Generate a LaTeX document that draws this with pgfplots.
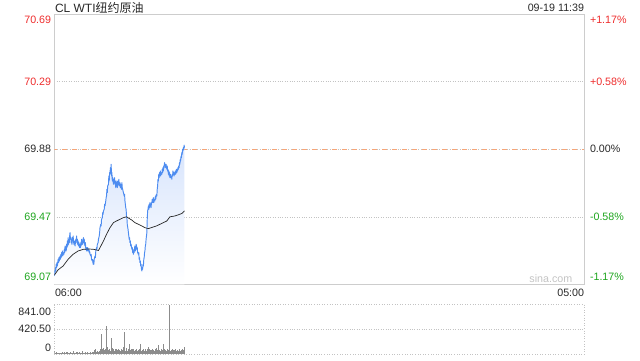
\documentclass[border=0pt]{standalone}
\usepackage{fontspec}
\setmainfont{Liberation Sans}
\newfontfamily\cjk{Noto Sans CJK SC}
\usepackage{pgfplots}
\usepackage{pgfplotstable}
\pgfplotsset{compat=1.18}
\definecolor{pricel}{RGB}{77,140,240}
\definecolor{fillc}{RGB}{215,228,252}
\definecolor{upred}{RGB}{238,45,45}
\definecolor{dngreen}{RGB}{30,165,30}
\definecolor{txt}{RGB}{40,40,40}
\definecolor{boxc}{RGB}{205,205,205}
\definecolor{gridc}{RGB}{195,195,195}
\definecolor{basec}{RGB}{245,165,120}
\definecolor{volc}{RGB}{140,140,140}
\pgfplotstableread{
m p
0 69.12
1 69.15
2 69.14
3 69.17
4 69.15
5 69.19
6 69.17
7 69.20
8 69.18
10 69.22
11 69.20
12 69.23
13 69.21
15 69.24
16 69.22
17 69.25
18 69.23
19 69.26
20 69.24
21 69.27
22 69.24
23 69.26
25 69.25
26 69.28
27 69.26
28 69.30
29 69.27
30 69.29
31 69.27
32 69.31
33 69.29
34 69.33
35 69.30
36 69.35
37 69.31
38 69.33
39 69.32
40 69.36
41 69.38
42 69.34
43 69.35
44 69.32
45 69.34
46 69.31
47 69.35
48 69.33
49 69.36
50 69.33
51 69.31
52 69.33
54 69.30
55 69.32
56 69.34
57 69.32
58 69.36
59 69.33
60 69.34
61 69.31
62 69.33
63 69.30
64 69.32
66 69.29
67 69.31
68 69.29
69 69.32
70 69.30
71 69.34
72 69.31
73 69.33
74 69.31
75 69.34
76 69.35
77 69.32
78 69.34
79 69.31
80 69.30
81 69.32
82 69.28
83 69.29
84 69.27
85 69.29
86 69.27
87 69.29
89 69.27
90 69.28
91 69.26
92 69.27
93 69.25
95 69.24
96 69.25
97 69.22
99 69.21
100 69.22
101 69.19
102 69.20
103 69.19
104 69.22
106 69.24
107 69.23
108 69.27
110 69.29
111 69.28
112 69.31
114 69.32
115 69.34
117 69.36
118 69.38
119 69.41
121 69.43
122 69.42
123 69.46
125 69.47
126 69.50
127 69.49
128 69.51
130 69.52
131 69.55
132 69.54
134 69.57
135 69.59
136 69.60
137 69.64
138 69.62
139 69.66
141 69.67
142 69.72
143 69.69
144 69.74
145 69.73
146 69.77
147 69.75
148 69.79
149 69.72
150 69.74
151 69.69
152 69.71
154 69.67
155 69.70
156 69.68
157 69.71
158 69.67
159 69.69
160 69.65
161 69.68
162 69.66
163 69.69
164 69.65
166 69.69
167 69.67
168 69.70
169 69.66
171 69.68
172 69.65
173 69.67
175 69.64
176 69.68
177 69.65
178 69.64
180 69.62
182 69.60
183 69.61
184 69.57
186 69.53
187 69.52
188 69.48
189 69.47
190 69.43
192 69.40
193 69.38
194 69.36
195 69.34
196 69.35
197 69.32
198 69.33
199 69.30
200 69.31
202 69.28
203 69.29
204 69.26
205 69.27
206 69.25
207 69.28
208 69.26
209 69.29
210 69.30
211 69.27
212 69.28
213 69.31
214 69.30
215 69.28
216 69.29
217 69.26
219 69.25
220 69.26
221 69.22
222 69.23
223 69.20
224 69.21
225 69.18
226 69.19
227 69.16
228 69.15
229 69.17
230 69.16
231 69.19
232 69.18
233 69.22
234 69.23
235 69.26
236 69.27
237 69.30
238 69.31
239 69.34
240 69.36
241 69.38
242 69.46
243 69.51
244 69.52
245 69.54
246 69.52
247 69.55
248 69.53
249 69.56
250 69.54
251 69.55
252 69.53
253 69.56
254 69.56
255 69.58
256 69.56
258 69.59
259 69.56
260 69.58
262 69.57
263 69.60
264 69.58
266 69.61
267 69.60
268 69.64
269 69.66
270 69.70
271 69.69
272 69.73
273 69.71
274 69.74
275 69.72
276 69.75
277 69.72
278 69.74
280 69.73
281 69.76
282 69.74
283 69.77
284 69.75
285 69.78
286 69.77
287 69.80
288 69.78
289 69.79
290 69.77
291 69.79
293 69.76
294 69.78
295 69.75
296 69.76
297 69.73
298 69.75
299 69.72
300 69.74
301 69.71
302 69.73
303 69.71
305 69.72
306 69.70
307 69.73
308 69.72
309 69.75
310 69.73
311 69.74
312 69.72
313 69.74
314 69.73
315 69.75
316 69.73
318 69.76
319 69.74
320 69.76
321 69.75
322 69.77
323 69.76
324 69.78
325 69.77
326 69.80
327 69.79
328 69.82
329 69.81
330 69.84
331 69.83
332 69.86
333 69.85
334 69.88
335 69.87
336 69.89
337 69.88
338 69.905
339 69.89
}\price
\begin{document}
\begin{tikzpicture}[every node/.style={font=\fontsize{10.7}{12}\selectfont,inner sep=0pt}]
\useasboundingbox (0pt,0pt) rectangle (640pt,360pt);
\begin{axis}[at={(54.3pt,75.7pt)}, anchor=south west, width=530pt, height=270pt, scale only axis,
  xmin=0, xmax=1380, ymin=69.07, ymax=70.69,
  axis line style={draw=boxc, line width=0.8pt},
  xtick=\empty, ytick={69.47,70.29}, yticklabels={}, major tick length=0pt,
  ymajorgrids, grid style={draw=gridc, dotted, line width=0.6pt},
  clip=true]
\addplot[draw=gridc, dotted, line width=0.6pt] coordinates {(0,69.88) (1380,69.88)};
\addplot[draw=basec, dash pattern=on 5pt off 5pt, dash phase=2pt, line width=0.9pt] coordinates {(0,69.88) (1380,69.88)};
\addplot[draw=none, top color=fillc, bottom color=white] table[x=m,y=p] {\price} \closedcycle;
\addplot[draw=pricel, line width=0.95pt, line join=round] table[x=m,y=p] {\price};
\addplot[draw=black!85, line width=0.7pt] coordinates {
(0,69.125) (10,69.157) (23,69.18) (36,69.22) (49,69.25) (62,69.27) (76,69.28) (89,69.282) (102,69.28) (115,69.273) (119,69.29) (128,69.33) (136,69.37) (145,69.41) (154,69.44) (162,69.45) (171,69.46) (180,69.47) (188,69.475) (195,69.465) (202,69.455) (210,69.44) (219,69.43) (228,69.42) (236,69.41) (245,69.404) (258,69.414) (266,69.42) (275,69.43) (284,69.44) (293,69.45) (301,69.475) (314,69.48) (323,69.487) (332,69.495) (339,69.51)
};
\end{axis}
\begin{axis}[at={(54.3pt,5.8pt)}, anchor=south west, width=530pt, height=49.7pt, scale only axis,
  xmin=0, xmax=1380, ymin=0, ymax=841,
  axis line style={draw=gridc, dotted, line width=0.6pt},
  xtick=\empty, ytick={420.5}, yticklabels={}, major tick length=0pt,
  ymajorgrids, grid style={draw=gridc, dotted, line width=0.6pt},
  clip=true]
\addplot[ycomb, draw=volc, line width=0.45pt] coordinates {
(0,60) (2,25) (4,18) (6,30) (8,15) (10,22) (12,12) (14,28) (16,20) (18,14) (20,35) (22,18) (24,25) (26,40) (28,16) (30,22) (32,30) (34,45) (36,20) (38,28) (40,15) (42,38) (44,22) (46,18) (48,50) (50,20) (52,26) (54,14) (56,30) (58,22) (60,42) (62,18) (64,25) (66,32) (68,15) (70,28) (72,20) (74,55) (76,24) (78,18) (80,30) (82,22) (84,26) (86,35) (88,20) (90,16) (92,28) (94,45) (96,25) (98,30) (100,22) (102,40) (104,70) (106,85) (108,35) (110,28) (112,50) (114,30) (116,60) (118,45)
(120,80) (122,110) (123,350) (124,60) (126,90) (128,100) (130,70) (132,85) (134,55) (136,474) (138,120) (140,65) (142,90) (144,75) (146,60) (148,266) (150,110) (152,70) (154,85) (156,60) (158,95) (160,55) (162,80) (164,65) (166,90) (168,50) (170,70) (172,60) (174,85) (176,55) (178,75) (180,120) (181,377) (182,90) (184,60) (186,100) (188,90) (190,55) (192,80) (194,65) (195,181) (196,110) (198,70) (200,85) (202,60) (204,95) (206,90) (208,55) (210,75) (212,65) (214,80) (216,50) (218,70) (220,95) (222,60) (223,181) (224,85) (226,55) (228,75) (230,65) (232,90) (234,60) (236,70) (238,80) (240,55) (242,95) (244,70) (245,124) (246,60) (248,85) (250,65) (252,75) (254,55) (256,90) (258,70) (260,60) (262,80) (264,65) (266,100) (268,70) (270,85) (271,150) (272,60) (274,75) (276,55) (278,90) (280,65) (282,70) (284,181) (286,80) (288,60) (290,75) (292,55) (294,85) (296,65) (298,70) (299,829) (300,90) (302,60) (304,75) (306,55) (308,80) (310,65) (312,70) (314,50) (316,85) (318,60) (320,75) (322,55) (324,70) (326,96) (328,60) (330,75) (332,55) (334,80) (336,65) (338,124) (339,70)
};
\end{axis}
% texts
\node[anchor=west, text=txt, font=\fontsize{12}{14}\selectfont] at (54.8pt,352pt) {CL WTI{\cjk 纽约原油}};
\node[anchor=east, text=txt] at (584.3pt,352pt) {09-19 11:39};
\node[anchor=east, text=upred] at (51.3pt,340pt) {70.69};
\node[anchor=east, text=upred] at (51.3pt,277.7pt) {70.29};
\node[anchor=east, text=txt] at (51.3pt,210.7pt) {69.88};
\node[anchor=east, text=dngreen] at (51.3pt,142.7pt) {69.47};
\node[anchor=east, text=dngreen] at (51.3pt,83.3pt) {69.07};
\node[anchor=west, text=upred] at (589.8pt,340pt) {+1.17\%};
\node[anchor=west, text=upred] at (589.8pt,277.7pt) {+0.58\%};
\node[anchor=west, text=txt] at (589.8pt,210.7pt) {0.00\%};
\node[anchor=west, text=dngreen] at (589.8pt,142.7pt) {-0.58\%};
\node[anchor=west, text=dngreen] at (589.8pt,83.3pt) {-1.17\%};
\node[anchor=east, text=gridc] at (572.5pt,81pt) {sina.com};
\node[anchor=west, text=txt] at (54.8pt,67.5pt) {06:00};
\node[anchor=east, text=txt] at (584.3pt,67.5pt) {05:00};
\node[anchor=east, text=txt] at (51.3pt,48.5pt) {841.00};
\node[anchor=east, text=txt] at (51.3pt,31pt) {420.50};
\node[anchor=east, text=txt] at (51.3pt,11.8pt) {0};
\end{tikzpicture}
\end{document}
